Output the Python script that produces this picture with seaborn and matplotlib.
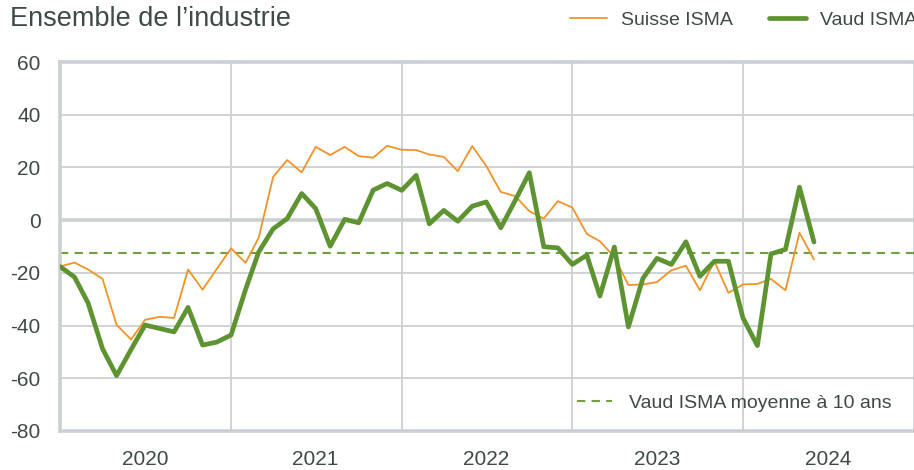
import matplotlib
matplotlib.use('Agg')
import matplotlib.pyplot as plt
import matplotlib.dates as mdates
from matplotlib.lines import Line2D
from matplotlib.ticker import NullFormatter
import pandas as pd
import seaborn as sns

# Indicateur ISMA, ensemble de l'industrie, valeurs mensuelles depuis janvier 2020
suisse_isma = [-17.6, -16.1, -18.7, -22.3, -39.7, -45.3, -37.8, -36.7, -37.1, -18.7, -26.4, -18.6,  # 2020
               -10.7, -16.2, -6.7, 16.4, 22.8, 18.1, 27.8, 24.7, 27.8, 24.3, 23.7, 28.2,          # 2021
               26.7, 26.6, 24.9, 24.0, 18.6, 28.1, 20.5, 10.7, 9.1, 3.4, 0.6, 7.2,               # 2022
               4.8, -5.2, -8.0, -14.0, -24.6, -24.4, -23.5, -19.0, -17.3, -26.6, -15.6, -27.6,   # 2023
               -24.4, -24.2, -22.3, -26.6, -4.8, -14.9]                                          # 2024
vaud_isma = [-17.6, -21.6, -31.4, -48.8, -59.0, -49.1, -39.8, -41.1, -42.4, -33.1, -47.4, -46.3,
             -43.6, -26.3, -12.1, -3.3, 0.6, 10.1, 4.4, -9.9, 0.3, -1.0, 11.4, 13.9,
             11.3, 17.0, -1.4, 3.7, -0.4, 5.3, 6.9, -2.9, 7.5, 18.0, -10.1, -10.5,
             -16.8, -13.3, -28.8, -10.2, -40.5, -22.1, -14.5, -16.8, -8.2, -21.3, -15.6, -15.6,
             -37.1, -47.6, -12.8, -11.1, 12.5, -8.3]
vaud_moyenne_10ans = -12.3

mois = pd.date_range('2020-01-01', periods=len(vaud_isma), freq='MS')
y_ticks = [60, 40, 20, 0, -20, -40, -60, -80]

titre = "Ensemble de l\u2019industrie"
noms = ['Suisse ISMA', 'Vaud ISMA']
nom_moyenne = 'Vaud ISMA moyenne \u00e0 10 ans'

ORANGE = '#f39325'
VERT = '#5e9331'
VERT_CLAIR = '#6f9f3e'
GRIS = '#cdd0d2'
TEXTE = '#3e4a47'

sns.set_theme(style='white')
plt.rcParams['font.family'] = ['Liberation Sans', 'DejaVu Sans']
plt.rcParams['axes.unicode_minus'] = False

df = pd.DataFrame({'mois': mois, noms[0]: suisse_isma, noms[1]: vaud_isma})

fig = plt.figure(figsize=(9.14, 4.70), dpi=100)
ax = fig.add_axes([60 / 914, 39 / 470, 854 / 914, 369 / 470])

# lignes de fond
ax.axhline(vaud_moyenne_10ans, color=VERT_CLAIR, lw=1.5, ls=(0, (4, 3)), zorder=2)
ax.axhline(0, color=GRIS, lw=2.6, zorder=1)

sns.lineplot(data=df, x='mois', y=noms[0], color=ORANGE, lw=1.3, ax=ax, zorder=3)
sns.lineplot(data=df, x='mois', y=noms[1], color=VERT, lw=3.4, ax=ax, zorder=4)

ax.set_xlim(pd.Timestamp('2020-01-01'), pd.Timestamp('2025-01-01'))
ax.set_ylim(-80, 60)
ax.set_yticks(y_ticks)
ax.set_xlabel('')
ax.set_ylabel('')

# grille : annees en traits verticaux, etiquettes au milieu de l'annee
ax.xaxis.set_major_locator(mdates.YearLocator())
ax.xaxis.set_major_formatter(NullFormatter())
ax.xaxis.set_minor_locator(mdates.MonthLocator(bymonth=7))
ax.xaxis.set_minor_formatter(mdates.DateFormatter('%Y'))
ax.grid(True, which='major', color=GRIS, lw=1.3, zorder=0)
ax.set_axisbelow(True)
ax.tick_params(which='both', length=0, colors=TEXTE, labelsize=15)
ax.tick_params(axis='y', pad=14)
ax.tick_params(axis='x', which='minor', pad=14)

for side in ['left', 'top', 'bottom']:
    ax.spines[side].set_color(GRIS)
    ax.spines[side].set_linewidth(2.6)
ax.spines['right'].set_visible(False)

fig.text(10 / 914, 1 - 19 / 470, titre, fontsize=19.5, color=TEXTE, va='center', ha='left')

police_legende = {'size': 14}
fig.legend(handles=[Line2D([], [], color=ORANGE, lw=1.3), Line2D([], [], color=VERT, lw=3.4)],
           labels=noms, loc='center left', bbox_to_anchor=(570 / 914, 1 - 20 / 470),
           ncol=2, frameon=False, borderpad=0, borderaxespad=0, handlelength=1.9,
           handletextpad=0.72, columnspacing=1.85, prop=police_legende, labelcolor=TEXTE)
ax.legend(handles=[Line2D([], [], color=VERT_CLAIR, lw=1.5, ls=(0, (4, 3)))],
          labels=[nom_moyenne], loc='center left', bbox_to_anchor=(577 / 914, 1 - 403 / 470),
          bbox_transform=fig.transFigure, frameon=False, borderpad=0, borderaxespad=0,
          handlelength=1.8, handletextpad=0.88, prop=police_legende, labelcolor=TEXTE)

fig.savefig('out.png', dpi=100)
